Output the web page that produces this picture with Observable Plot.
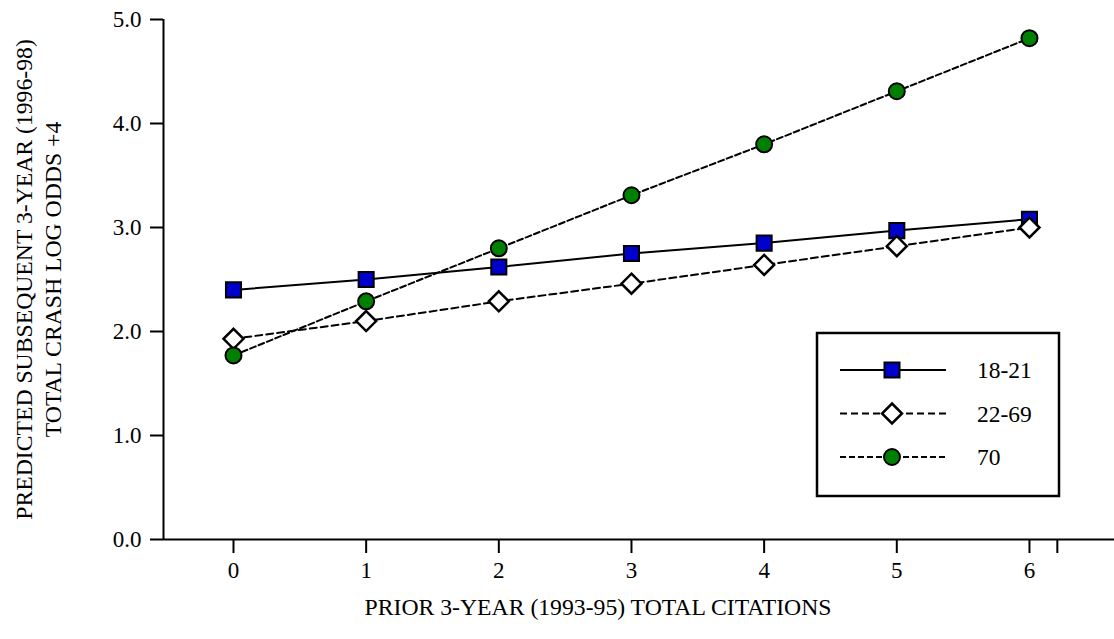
<!DOCTYPE html>
<html><head><meta charset="utf-8">
<script src="https://cdn.jsdelivr.net/npm/d3@7"></script>
<script src="https://cdn.jsdelivr.net/npm/@observablehq/plot@0.6"></script>
<style>body{margin:0;background:#fff}</style>
</head><body><div id="chart"></div>
<script>
const citations = [0, 1, 2, 3, 4, 5, 6];
const ages = ["18-21", "22-69", "70"];
const logOdds_18_21 = [2.40, 2.50, 2.62, 2.75, 2.85, 2.97, 3.08];
const logOdds_22_69 = [1.93, 2.10, 2.29, 2.46, 2.64, 2.82, 3.00];
const logOdds_70    = [1.77, 2.29, 2.80, 3.31, 3.80, 4.31, 4.82];
const yTicks = [0, 1, 2, 3, 4, 5];
const xTicks = [0, 1, 2, 3, 4, 5, 6, 6.21];
const xTitle = "PRIOR 3-YEAR (1993-95) TOTAL CITATIONS";
const yTitle = "PREDICTED SUBSEQUENT 3-YEAR (1996-98)\nTOTAL CRASH LOG ODDS +4";

const seriesValues = [logOdds_18_21, logOdds_22_69, logOdds_70];
const styles = {
  "18-21": {dash: null,  symbol: "square",   fill: "#0000cc", r: 8.5, size: 225},
  "22-69": {dash: "7,4", symbol: "diamond2", fill: "#ffffff", r: 9.0, size: 255},
  "70":    {dash: "6,3", symbol: "circle",   fill: "#008000", r: 8.0, size: 201}
};
const rows = ages.flatMap((a, i) => citations.map((c, j) => ({age: a, x: c, y: seriesValues[i][j]})));

const xDomain = [-0.5276, 6.641];
const font = "'Liberation Serif', 'Times New Roman', serif";

const marks = [
  Plot.ruleY([0], {stroke: "black", strokeWidth: 2}),
  Plot.ruleX([xDomain[0]], {y1: 0, y2: 5, stroke: "black", strokeWidth: 2}),
  Plot.axisY({ticks: yTicks, tickSize: 13, tickPadding: 9, tickFormat: d3.format(".1f"), strokeWidth: 2, fontSize: 23, label: null}),
  Plot.axisX({ticks: xTicks, tickSize: 14, tickPadding: 8, tickFormat: d => d > 6 ? "" : String(d), strokeWidth: 2, fontSize: 23, label: null}),
];
for (const a of ages) {
  const s = styles[a];
  const data = rows.filter(d => d.age === a);
  marks.push(Plot.line(data, {x: "x", y: "y", stroke: "black", strokeWidth: 2, strokeDasharray: s.dash}));
}
for (const a of ages) {
  const s = styles[a];
  const data = rows.filter(d => d.age === a);
  marks.push(Plot.dot(data, {x: "x", y: "y", symbol: () => s.symbol, r: s.r, fill: s.fill, stroke: "black", strokeWidth: a === "22-69" ? 2.5 : 2}));
}
marks.push(Plot.text([xTitle], {frameAnchor: "bottom", dx: -41, dy: 68, lineAnchor: "middle", fontSize: 23.7, text: d => d}));
marks.push(Plot.text([yTitle], {frameAnchor: "left", dx: -126, rotate: -90, lineAnchor: "middle", textAnchor: "middle", lineHeight: 1.2, fontSize: 23.7, text: d => d}));

const chart = Plot.plot({
  width: 1114, height: 639,
  marginLeft: 163, marginRight: 0, marginTop: 19, marginBottom: 100,
  x: {domain: xDomain},
  y: {domain: [0, 5]},
  style: {fontFamily: font, fontSize: "23px", color: "black", background: "white"},
  marks
});
document.getElementById("chart").append(chart);

// Legend
const svg = d3.select(chart);
const lg = svg.append("g").attr("font-family", font).attr("font-size", 23.5).attr("text-anchor", "start");
lg.append("rect").attr("x", 817).attr("y", 333).attr("width", 242).attr("height", 163)
  .attr("fill", "white").attr("stroke", "black").attr("stroke-width", 2.5);
const symMap = {square: d3.symbolSquare, diamond2: d3.symbolDiamond2, circle: d3.symbolCircle};
ages.forEach((a, i) => {
  const s = styles[a];
  const y = 370 + i * 43.5;
  lg.append("line").attr("x1", 840).attr("x2", 946).attr("y1", y).attr("y2", y)
    .attr("stroke", "black").attr("stroke-width", 2).attr("stroke-dasharray", s.dash);
  lg.append("path").attr("d", d3.symbol(symMap[s.symbol], s.size)())
    .attr("transform", `translate(892,${y})`).attr("fill", s.fill).attr("stroke", "black")
    .attr("stroke-width", a === "22-69" ? 2.5 : 2);
  lg.append("text").attr("x", 977).attr("y", y).attr("dy", "0.35em").attr("text-anchor", "start").text(a);
});
</script>
</body></html>
